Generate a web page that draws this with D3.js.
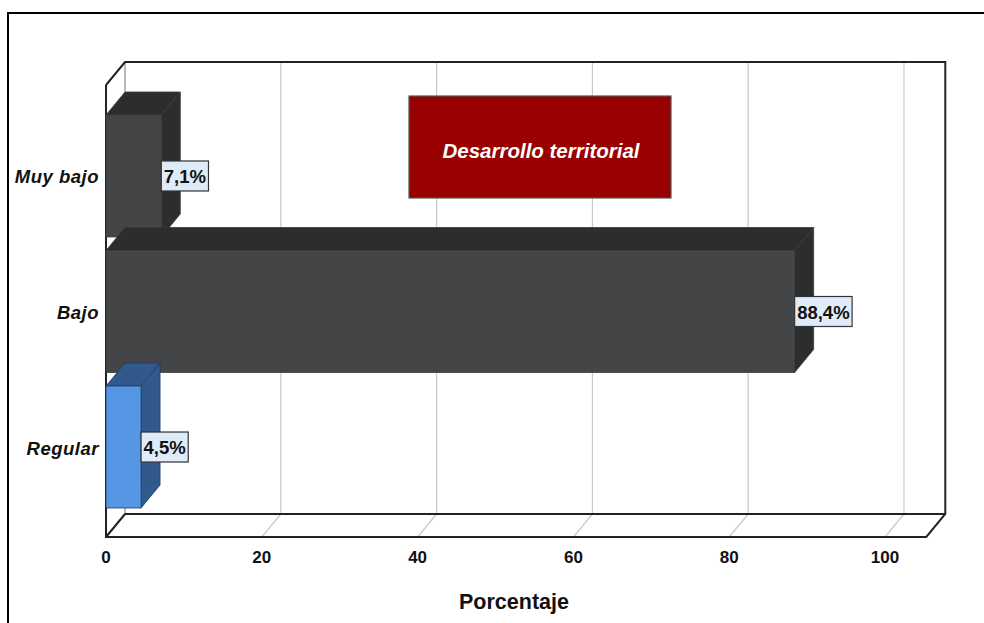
<!DOCTYPE html>
<html><head><meta charset="utf-8">
<script src="https://cdn.jsdelivr.net/npm/d3@7"></script>
<style>body{margin:0;background:#fff}svg{display:block}</style>
</head><body>
<svg id="c" width="984" height="623"></svg>
<script>
const categories = ["Muy bajo", "Bajo", "Regular"];
const values = [7.1, 88.4, 4.5];
const valueLabels = ["7,1%", "88,4%", "4,5%"];
const barColors = ["#444546", "#444546", "#5597e4"];
const barDark = ["#2c2d2d", "#2c2d2d", "#31598b"];
const barStroke = ["#3a3a3a", "#3a3a3a", "#1f3d66"];
const ticks = [0, 20, 40, 60, 80, 100];
const title = "Desarrollo territorial";
const xTitle = "Porcentaje";

const svg = d3.select("#c");
const DX = 19, DY = 23;
const x = d3.scaleLinear().domain([0, 100]).range([106, 885]);
const y = d3.scaleBand().domain(categories).range([115, 508]).paddingInner(0.1);
const frontTop = 85, frontBottom = 537, xMax = 105.3;
const L = x(0), R = x(xMax);

// outer border
svg.append("rect").attr("x", 8).attr("y", 13).attr("width", 990).attr("height", 640)
  .attr("fill", "none").attr("stroke", "#000").attr("stroke-width", 2);

// gridlines on back wall and floor
const g = svg.append("g");
ticks.filter(t => t > 0).forEach(t => {
  g.append("line").attr("x1", x(t) + DX).attr("x2", x(t) + DX)
    .attr("y1", frontTop - DY).attr("y2", frontBottom - DY)
    .attr("stroke", "#c9c9c9").attr("stroke-width", 1.2);
  g.append("line").attr("x1", x(t) + DX).attr("y1", frontBottom - DY)
    .attr("x2", x(t)).attr("y2", frontBottom)
    .attr("stroke", "#c9c9c9").attr("stroke-width", 1.2);
});
// left wall back edge
g.append("line").attr("x1", L + DX).attr("x2", L + DX).attr("y1", frontTop - DY).attr("y2", frontBottom - DY)
  .attr("stroke", "#8a8a8a").attr("stroke-width", 1.2);
// frame dark lines
const frame = [
  [[L, frontTop], [L + DX, frontTop - DY], [R + DX, frontTop - DY], [R + DX, frontBottom - DY], [R, frontBottom], [L, frontBottom], [L, frontTop]],
  [[L + DX, frontBottom - DY], [R + DX, frontBottom - DY]],
  [[L, frontBottom], [L + DX, frontBottom - DY]]
];
frame.forEach(p => g.append("path").attr("d", d3.line()(p)).attr("fill", "none")
  .attr("stroke", "#222").attr("stroke-width", 2));

// bars
const bars = svg.append("g");
categories.forEach((c, i) => {
  const y0 = y(c), y1 = y(c) + y.bandwidth(), xv = x(values[i]);
  bars.append("path").attr("d", d3.line()([[L, y0], [L + DX, y0 - DY], [xv + DX, y0 - DY], [xv, y0]]) + "Z")
    .attr("fill", barDark[i]).attr("stroke", barStroke[i]).attr("stroke-width", 0.8);
  bars.append("path").attr("d", d3.line()([[xv, y0], [xv + DX, y0 - DY], [xv + DX, y1 - DY], [xv, y1]]) + "Z")
    .attr("fill", barDark[i]).attr("stroke", barStroke[i]).attr("stroke-width", 0.8);
  bars.append("rect").attr("x", L).attr("y", y0).attr("width", xv - L).attr("height", y1 - y0)
    .attr("fill", barColors[i]).attr("stroke", barStroke[i]).attr("stroke-width", 0.8);
});

// value labels
categories.forEach((c, i) => {
  const cy = y(c) + y.bandwidth() / 2, xv = x(values[i]);
  const gg = svg.append("g");
  const r = gg.append("rect");
  const t = gg.append("text").attr("x", xv + 2.5).attr("y", cy + 7)
    .attr("font-family", "Liberation Sans, Arial, sans-serif").attr("font-weight", "bold")
    .attr("font-size", 18.5).attr("fill", "#111").text(valueLabels[i]);
  const w = t.node().getComputedTextLength() + 5;
  r.attr("x", xv).attr("y", cy - 15).attr("width", w).attr("height", 30)
    .attr("fill", "#deebf8").attr("stroke", "#333").attr("stroke-width", 1.2);
});

// category labels
svg.append("g").selectAll("text").data(categories).join("text")
  .attr("x", 99).attr("y", d => y(d) + y.bandwidth() / 2 + 7.5)
  .attr("text-anchor", "end").attr("font-family", "Liberation Sans, Arial, sans-serif")
  .attr("font-weight", "bold").attr("font-style", "italic").attr("font-size", 18.5)
  .attr("letter-spacing", 0.5).attr("fill", "#111").text(d => d);

// tick labels
svg.append("g").selectAll("text").data(ticks).join("text")
  .attr("x", d => x(d)).attr("y", 563).attr("text-anchor", "middle")
  .attr("font-family", "Liberation Sans, Arial, sans-serif").attr("font-weight", "bold")
  .attr("font-size", 17).attr("fill", "#111").text(d => d);

// axis title
svg.append("text").attr("x", 514).attr("y", 609).attr("text-anchor", "middle")
  .attr("font-family", "Liberation Sans, Arial, sans-serif").attr("font-weight", "bold")
  .attr("font-size", 21.5).attr("fill", "#111").text(xTitle);

// title box
svg.append("rect").attr("x", 409).attr("y", 96).attr("width", 262).attr("height", 102)
  .attr("fill", "#990000").attr("stroke", "#555").attr("stroke-width", 1.2);
svg.append("text").attr("x", 541).attr("y", 158).attr("text-anchor", "middle")
  .attr("font-family", "Liberation Sans, Arial, sans-serif").attr("font-weight", "bold")
  .attr("font-style", "italic").attr("font-size", 20.5).attr("fill", "#fff").text(title);
</script>
</body></html>
